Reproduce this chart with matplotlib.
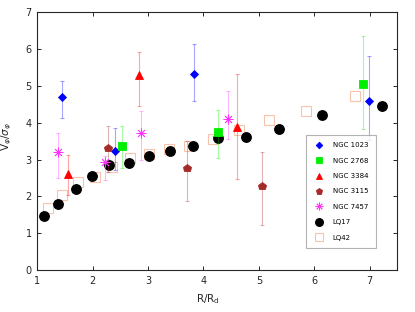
import numpy as np
import matplotlib.pyplot as plt

# NGC galaxies: R/Rd, V/sigma, error (lower, upper)
n1023_x = [1.45, 2.40, 3.83, 6.99]
n1023_y = [4.69, 3.23, 5.31, 4.59]
n1023_lo = [0.57, 0.50, 0.71, 1.07]
n1023_hi = [0.45, 0.63, 0.81, 1.23]

n2768_x = [2.53, 4.26, 6.88]
n2768_y = [3.36, 3.75, 5.05]
n2768_lo = [0.60, 0.70, 1.21]
n2768_hi = [0.55, 0.60, 1.29]

n3384_x = [1.56, 2.83, 4.60]
n3384_y = [2.62, 5.28, 3.88]
n3384_lo = [0.59, 0.82, 1.41]
n3384_hi = [0.51, 0.63, 1.44]

n3115_x = [2.28, 3.71, 5.05]
n3115_y = [3.31, 2.77, 2.29]
n3115_lo = [0.65, 0.90, 1.07]
n3115_hi = [0.60, 0.73, 0.92]

n7457_x = [1.38, 2.22, 2.87, 4.44]
n7457_y = [3.21, 2.94, 3.72, 4.11]
n7457_lo = [0.71, 0.50, 0.72, 0.54]
n7457_hi = [0.51, 0.15, 0.59, 0.74]

lq17_x = [1.12, 1.38, 1.69, 1.99, 2.29, 2.65, 3.02, 3.40, 3.82, 4.26, 4.77, 5.37, 6.14, 7.22]
lq17_y = [1.48, 1.81, 2.19, 2.55, 2.86, 2.92, 3.10, 3.22, 3.36, 3.58, 3.60, 3.84, 4.22, 4.46]

lq42_x = [1.19, 1.45, 1.74, 2.05, 2.35, 2.67, 3.01, 3.38, 3.74, 4.17, 4.65, 5.19, 5.85, 6.74]
lq42_y = [1.70, 2.03, 2.38, 2.53, 2.80, 3.03, 3.16, 3.30, 3.37, 3.55, 3.79, 4.08, 4.31, 4.73]

fig = plt.figure(figsize=(4.15, 3.12), dpi=100)
ax = fig.add_axes([0.0899, 0.1337, 0.8675, 0.8278])

ax.plot(lq42_x, lq42_y, 's', ms=6.5, mfc='none', mec='#f7c3ad', mew=0.8, zorder=2, label='LQ42')
ax.plot(lq17_x, lq17_y, 'o', ms=6.8, color='black', zorder=3, label='LQ17')

ngc = [
    (n1023_x, n1023_y, n1023_lo, n1023_hi, 'D', 'blue', 4.2, 'NGC 1023'),
    (n2768_x, n2768_y, n2768_lo, n2768_hi, 's', '#00ee00', 6.0, 'NGC 2768'),
    (n3384_x, n3384_y, n3384_lo, n3384_hi, '^', 'red', 6.2, 'NGC 3384'),
    (n3115_x, n3115_y, n3115_lo, n3115_hi, 'p', '#a52a2a', 6.2, 'NGC 3115'),
    (n7457_x, n7457_y, n7457_lo, n7457_hi, (8, 2, 0), '#ff33ff', 7.0, 'NGC 7457'),
]
for x, y, lo, hi, m, c, s, lab in ngc:
    ax.errorbar(x, y, yerr=[lo, hi], fmt='none', ecolor=c, alpha=0.35,
                elinewidth=0.8, capsize=1.3, capthick=0.8, zorder=4)
    ax.plot(x, y, marker=m, ls='none', ms=s, color=c, mew=0.6, zorder=5, label=lab)

hl, ll = ax.get_legend_handles_labels()
order = ['NGC 1023', 'NGC 2768', 'NGC 3384', 'NGC 3115', 'NGC 7457', 'LQ17', 'LQ42']
hd = dict(zip(ll, hl))
leg = ax.legend([hd[k] for k in order], order, loc='lower right',
                bbox_to_anchor=(0.95, 0.072), fontsize=5, fancybox=False,
                edgecolor='#a0a0a0', labelspacing=1.35, handletextpad=1.2,
                borderpad=1.1, handlelength=1.5, markerscale=0.8)
leg.get_frame().set_linewidth(0.8)

ax.set_xlim(1, 7.5)
ax.set_ylim(0, 7)
ax.set_xticks([1, 2, 3, 4, 5, 6, 7])
ax.set_yticks([0, 1, 2, 3, 4, 5, 6, 7])
ax.tick_params(direction='in', top=True, right=True, length=3, width=0.7,
               labelsize=7, colors='#262626', pad=4)
for sp in ax.spines.values():
    sp.set_color('#262626')
    sp.set_linewidth(0.8)
ax.set_xlabel(r'R/R$_\mathrm{d}$', fontsize=7.5, color='#262626')
ax.xaxis.set_label_coords(0.475, -0.085)
ax.set_ylabel(r'V$_\varphi$/$\sigma_\varphi$', fontsize=7.5, color='#262626')
ax.yaxis.set_label_coords(-0.065, 0.52)

fig.savefig('out.png', dpi=100)
